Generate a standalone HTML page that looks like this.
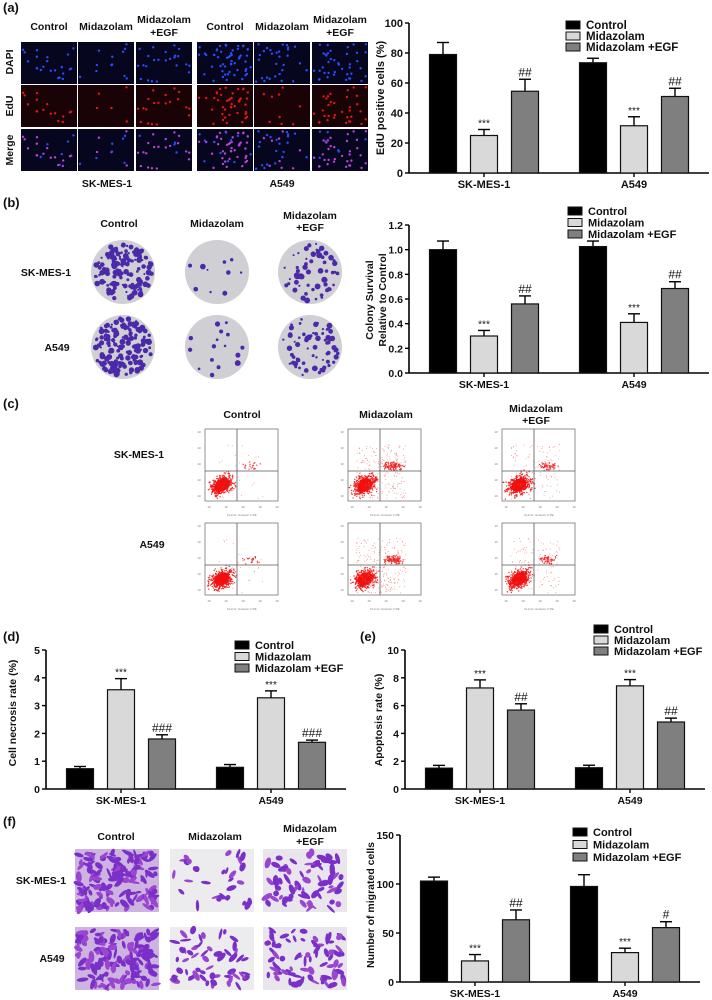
<!DOCTYPE html>
<html><head><meta charset="utf-8"><style>
html,body{margin:0;padding:0;background:#fff;}
svg{display:block;font-family:"Liberation Sans",Arial,sans-serif;}
</style></head><body>
<svg id="fig" width="712" height="1000" viewBox="0 0 712 1000" xmlns="http://www.w3.org/2000/svg">
<g id="static"></g>
</svg>
<script>
// ---------- chart data ----------
const groups = ["SK-MES-1", "A549"];
const series = ["Control", "Midazolam", "Midazolam +EGF"];

const edu_ctrl = [79, 73.5], edu_mid = [25, 31.5], edu_egf = [54.5, 51];
const edu_ctrl_err = [8, 3], edu_mid_err = [4, 6], edu_egf_err = [8, 5.5];
const edu_mid_ann = ["***", "***"], edu_egf_ann = ["##", "##"];
const edu_ticks = [0, 20, 40, 60, 80, 100];
const edu_tick_labels = ["0", "20", "40", "60", "80", "100"];

const col_ctrl = [1.0, 1.025], col_mid = [0.30, 0.41], col_egf = [0.56, 0.685];
const col_ctrl_err = [0.07, 0.045], col_mid_err = [0.045, 0.07], col_egf_err = [0.065, 0.055];
const col_mid_ann = ["***", "***"], col_egf_ann = ["##", "##"];
const col_ticks = [0, 0.2, 0.4, 0.6, 0.8, 1.0, 1.2];
const col_tick_labels = ["0.0", "0.2", "0.4", "0.6", "0.8", "1.0", "1.2"];

const nec_ctrl = [0.73, 0.78], nec_mid = [3.57, 3.28], nec_egf = [1.8, 1.68];
const nec_ctrl_err = [0.08, 0.1], nec_mid_err = [0.4, 0.25], nec_egf_err = [0.15, 0.08];
const nec_mid_ann = ["***", "***"], nec_egf_ann = ["###", "###"];
const nec_ticks = [0, 1, 2, 3, 4, 5];
const nec_tick_labels = ["0", "1", "2", "3", "4", "5"];

const apo_ctrl = [1.5, 1.53], apo_mid = [7.27, 7.42], apo_egf = [5.68, 4.82];
const apo_ctrl_err = [0.2, 0.18], apo_mid_err = [0.58, 0.45], apo_egf_err = [0.45, 0.28];
const apo_mid_ann = ["***", "***"], apo_egf_ann = ["##", "##"];
const apo_ticks = [0, 2, 4, 6, 8, 10];
const apo_tick_labels = ["0", "2", "4", "6", "8", "10"];

const mig_ctrl = [103, 97.5], mig_mid = [21.5, 30], mig_egf = [63.5, 55.5];
const mig_ctrl_err = [4, 12], mig_mid_err = [6.5, 4.5], mig_egf_err = [10, 6];
const mig_mid_ann = ["***", "***"], mig_egf_ann = ["##", "#"];
const mig_ticks = [0, 50, 100, 150];
const mig_tick_labels = ["0", "50", "100", "150"];

// ---------- helpers ----------
const NS = "http://www.w3.org/2000/svg";
const root = document.getElementById("static");
function mk(tag, attrs, parent) {
  const e = document.createElementNS(NS, tag);
  for (const k in attrs) e.setAttribute(k, attrs[k]);
  (parent || root).appendChild(e);
  return e;
}
function txt(x, y, s, size, parent, anchor, bold, name) {
  const t = mk("text", {x: x, y: y, "font-size": size, "text-anchor": anchor || "middle", "font-weight": bold === false ? "normal" : "bold", fill: "#111"}, parent);
  t.textContent = s;
  
  
  return t;
}
const fills = ["#000000", "#d9d9d9", "#7f7f7f"];

function barChart(c) {
  const g = mk("g", {}, root);
  
  
  const plotW = 300;
  const ys = v => c.y0 - (v / c.ymax) * (c.y0 - c.yTop);
  const gx = i => c.x0 + plotW * (0.25 + 0.5 * i) + c.shift;
  const ya = mk("line", {x1: c.x0, y1: c.yTop, x2: c.x0, y2: c.y0, stroke: "#000", "stroke-width": 1.6}, g);
  
  
  c.ticks.forEach((t, i) => {
    mk("line", {x1: c.x0 - 4, y1: ys(t), x2: c.x0, y2: ys(t), stroke: "#000", "stroke-width": 1.4}, g);
    txt(c.x0 - 6, ys(t) + 4, c.tickLabels[i], c.fs, g, "end", true, "y-tick-label");
  });
  const xa = mk("line", {x1: c.x0, y1: c.y0, x2: c.x0 + plotW, y2: c.y0, stroke: "#000", "stroke-width": 1.6}, g);
  
  
  const vals = [c.ctrl, c.mid, c.egf], errs = [c.ctrlE, c.midE, c.egfE], anns = [null, c.midA, c.egfA];
  groups.forEach((gn, i) => {
    mk("line", {x1: gx(i), y1: c.y0, x2: gx(i), y2: c.y0 + 4, stroke: "#000", "stroke-width": 1.4}, g);
    txt(gx(i), c.y0 + 15, gn, c.fs, g, "middle", true, "x-group-label");
    for (let s = 0; s < 3; s++) {
      const cx = gx(i) + (s - 1) * 41, w = 27;
      const v = vals[s][i], e = errs[s][i];
      const top = ys(v), et = ys(v + e);
      const el = mk("line", {x1: cx, y1: top, x2: cx, y2: et, stroke: "#000", "stroke-width": 1.4}, g);
      
      
      mk("line", {x1: cx - 6, y1: et, x2: cx + 6, y2: et, stroke: "#000", "stroke-width": 1.4}, g);
      const r = mk("rect", {x: cx - w / 2, y: top, width: w, height: c.y0 - top, fill: fills[s], stroke: "#111", "stroke-width": 1.2}, g);
      
      
      if (anns[s]) {
        const a = anns[s][i];
        const star = a.indexOf("*") >= 0;
        txt(cx, et - 3, a, star ? 10 : 12, g, "middle", false, "significance-mark");
      }
    }
  });
  series.forEach((sn, s) => {
    const ly = c.legY + s * c.legDy;
    const r = mk("rect", {x: c.legX, y: ly - 4, width: 14, height: 8, fill: fills[s], stroke: "#111", "stroke-width": 1}, g);
    
    
    txt(c.legX + 20, ly + 4, sn, c.legFs, g, "start", true, "legend-entry");
  });
  c.ylab.forEach((l, k) => {
    const yx = c.ylabX + k * 13;
    const t = txt(yx, c.ylabY, l, c.fs, g, "middle", true, "y-axis-title");
    t.setAttribute("transform", `rotate(-90 ${yx} ${c.ylabY})`);
  });
}

barChart({name: "edu-chart", x0: 409, y0: 173, yTop: 23, ymax: 100, shift: 0, ticks: edu_ticks, tickLabels: edu_tick_labels,
  ctrl: edu_ctrl, mid: edu_mid, egf: edu_egf, ctrlE: edu_ctrl_err, midE: edu_mid_err, egfE: edu_egf_err, midA: edu_mid_ann, egfA: edu_egf_ann,
  legX: 566, legY: 25, legDy: 11, legFs: 11.5, fs: 11, ylab: ["EdU positive cells (%)"], ylabX: 384, ylabY: 98});
barChart({name: "colony-chart", x0: 409, y0: 373, yTop: 225, ymax: 1.2, shift: 0, ticks: col_ticks, tickLabels: col_tick_labels,
  ctrl: col_ctrl, mid: col_mid, egf: col_egf, ctrlE: col_ctrl_err, midE: col_mid_err, egfE: col_egf_err, midA: col_mid_ann, egfA: col_egf_ann,
  legX: 568, legY: 211, legDy: 11.5, legFs: 11, fs: 10.5, ylab: ["Colony Survival", "Relative to Control"], ylabX: 373, ylabY: 300});
barChart({name: "necrosis-chart", x0: 46, y0: 789, yTop: 650, ymax: 5, shift: 0, ticks: nec_ticks, tickLabels: nec_tick_labels,
  ctrl: nec_ctrl, mid: nec_mid, egf: nec_egf, ctrlE: nec_ctrl_err, midE: nec_mid_err, egfE: nec_egf_err, midA: nec_mid_ann, egfA: nec_egf_ann,
  legX: 235, legY: 645, legDy: 11.5, legFs: 11, fs: 10.5, ylab: ["Cell necrosis rate (%)"], ylabX: 16, ylabY: 713});
barChart({name: "apoptosis-chart", x0: 405, y0: 789, yTop: 650, ymax: 10, shift: 0, ticks: apo_ticks, tickLabels: apo_tick_labels,
  ctrl: apo_ctrl, mid: apo_mid, egf: apo_egf, ctrlE: apo_ctrl_err, midE: apo_mid_err, egfE: apo_egf_err, midA: apo_mid_ann, egfA: apo_egf_ann,
  legX: 594, legY: 629, legDy: 11, legFs: 11, fs: 10.5, ylab: ["Apoptosis rate (%)"], ylabX: 382, ylabY: 720});
barChart({name: "migration-chart", x0: 400, y0: 982, yTop: 835, ymax: 150, shift: 0, ticks: mig_ticks, tickLabels: mig_tick_labels,
  ctrl: mig_ctrl, mid: mig_mid, egf: mig_egf, ctrlE: mig_ctrl_err, midE: mig_mid_err, egfE: mig_egf_err, midA: mig_mid_ann, egfA: mig_egf_ann,
  legX: 573, legY: 832, legDy: 12.5, legFs: 11, fs: 10.5, ylab: ["Number of migrated cells"], ylabX: 374, ylabY: 905});

// ---------- decorative micrographs ----------
let seed = 7;
function rnd() { seed = (seed * 16807) % 2147483647; return seed / 2147483647; }

[["(a)", 3, 12], ["(b)", 3, 207], ["(c)", 3, 408], ["(d)", 3, 641], ["(e)", 360, 641], ["(f)", 3, 826]].forEach(p => txt(p[1], p[2], p[0], 13, root, "start", true, "panel-label"));

// (a) fluorescence grid
const aCols = [21, 78, 136, 197, 254, 312], aRows = [42, 85, 129];
const aHead = [["Control"], ["Midazolam"], ["Midazolam", "+EGF"], ["Control"], ["Midazolam"], ["Midazolam", "+EGF"]];
const density = [22, 12, 24, 55, 30, 40];
aCols.forEach((x, ci) => {
  const h = aHead[ci];
  if (h.length === 1) txt(x + 28, 30, h[0], 10.5, root, "middle", true, "column-header");
  else { txt(x + 28, 23, h[0], 10.5, root, "middle", true, "column-header"); txt(x + 28, 36, h[1], 10.5, root, "middle", true, "column-header"); }
  aRows.forEach((y, ri) => {
    const g = mk("g", {});
    
    
    mk("rect", {x: x, y: y, width: 56, height: 42, fill: ri === 1 ? "#1a0306" : "#06061e"}, g);
    seed = 100 + ci * 13;
    const n = density[ci];
    for (let k = 0; k < n; k++) {
      const px = x + 2 + rnd() * 52, py = y + 2 + rnd() * 38, isRed = rnd() < (ci === 1 || ci === 4 ? 0.3 : 0.7);
      let col;
      if (ri === 0) col = "#2a4cff";
      else if (ri === 1) col = isRed ? "#e01818" : null;
      else col = isRed ? "#c040d8" : "#2a4cff";
      if (col) mk("circle", {cx: px, cy: py, r: 1.2, fill: col}, g);
    }
  });
});
[["DAPI", 62], ["EdU", 106], ["Merge", 150]].forEach(r => {
  const t = txt(13, r[1], r[0], 10.5, root, "middle", true, "row-label");
  t.setAttribute("transform", `rotate(-90 13 ${r[1]})`);
});
txt(107, 187, "SK-MES-1", 10.5, root, "middle", true, "cell-line-label");
txt(282, 187, "A549", 10.5, root, "middle", true, "cell-line-label");

// (b) colony dishes
const bCx = [123, 217, 310], bCy = [272, 347], bDen = [[150, 10, 60], [170, 16, 70]];
txt(119, 227, "Control", 10.5, root, "middle", true, "column-header");
txt(217, 227, "Midazolam", 10.5, root, "middle", true, "column-header");
txt(310, 219, "Midazolam", 10.5, root, "middle", true, "column-header");
txt(310, 231, "+EGF", 10.5, root, "middle", true, "column-header");
txt(46, 276, "SK-MES-1", 10.5, root, "middle", true, "row-label");
txt(57, 351, "A549", 10.5, root, "middle", true, "row-label");
bCy.forEach((cy, ri) => bCx.forEach((cx, ci) => {
  const g = mk("g", {});
  
  
  mk("circle", {cx: cx, cy: cy, r: 32, fill: "#cfcfd4"}, g);
  seed = 500 + ri * 31 + ci * 7;
  for (let k = 0; k < bDen[ri][ci]; k++) {
    const a = rnd() * 6.283, d = Math.sqrt(rnd()) * 29;
    mk("circle", {cx: cx + Math.cos(a) * d, cy: cy + Math.sin(a) * d, r: 1 + rnd() * 2, fill: "#4a2aa8"}, g);
  }
}));

// (c) flow cytometry
const cX = [205, 348, 502], cY = [429, 523];
txt(242, 418, "Control", 10.5, root, "middle", true, "column-header");
txt(386, 418, "Midazolam", 10.5, root, "middle", true, "column-header");
txt(536, 412, "Midazolam", 10.5, root, "middle", true, "column-header");
txt(536, 424, "+EGF", 10.5, root, "middle", true, "column-header");
txt(139, 458, "SK-MES-1", 10.5, root, "middle", true, "row-label");
txt(152, 548, "A549", 10.5, root, "middle", true, "row-label");
const cUR = [[20, 110, 55], [20, 110, 55]], cSpread = [[30, 220, 110], [30, 230, 110]];
cY.forEach((y, ri) => cX.forEach((x, ci) => {
  const g = mk("g", {});
  
  
  mk("rect", {x: x, y: y, width: 73, height: 72, fill: "#fff", stroke: "#777", "stroke-width": 0.8}, g);
  seed = 900 + ri * 17 + ci * 5;
  mk("ellipse", {cx: x + 17, cy: y + 56, rx: 8, ry: 6, fill: "#f21a1a", transform: `rotate(-35 ${x + 17} ${y + 56})`}, g);
  for (let k = 0; k < 450; k++) {
    const u = rnd() + rnd() + rnd() - 1.5, v = rnd() + rnd() + rnd() - 1.5;
    mk("circle", {cx: x + 17 + u * 11 + v * 3, cy: y + 56 + v * 8 - u * 5, r: 0.7, fill: "#f01010", opacity: 0.85}, g);
  }
  for (let k = 0; k < cUR[ri][ci]; k++) {
    const u = rnd() + rnd() - 1, v = rnd() + rnd() - 1;
    mk("circle", {cx: x + 46 + u * 11, cy: y + 37 + v * 5, r: 0.7, fill: "#f02020", opacity: 0.85}, g);
  }
  for (let k = 0; k < cSpread[ri][ci]; k++) {
    mk("circle", {cx: x + 8 + rnd() * 50, cy: y + 15 + rnd() * 55, r: 0.5, fill: "#f06060", opacity: 0.7}, g);
  }
  mk("line", {x1: x + 32, y1: y, x2: x + 32, y2: y + 72, stroke: "#555", "stroke-width": 0.8}, g);
  mk("line", {x1: x, y1: y + 42, x2: x + 73, y2: y + 42, stroke: "#555", "stroke-width": 0.8}, g);
  const cap = txt(x + 37, y + 87, "FL2-H:: Annexin V PE", 3, g, "middle", false, "flow-x-axis-title");
  cap.setAttribute("fill", "#777");
  for (let k = 0; k < 5; k++) {
    const tk = txt(x + 4 + k * 17, y + 79, "10", 3, g, "middle", false, "flow-tick");
    tk.setAttribute("fill", "#777");
    const tk2 = txt(x - 6, y + 68 - k * 16, "10", 3, g, "middle", false, "flow-tick");
    tk2.setAttribute("fill", "#777");
  }
}));

// (f) transwell images
const fX = [75, 170, 263], fY = [849, 927];
txt(116, 840, "Control", 10.5, root, "middle", true, "column-header");
txt(215, 840, "Midazolam", 10.5, root, "middle", true, "column-header");
txt(310, 832, "Midazolam", 10.5, root, "middle", true, "column-header");
txt(310, 845, "+EGF", 10.5, root, "middle", true, "column-header");
txt(41, 884, "SK-MES-1", 10.5, root, "middle", true, "row-label");
txt(52, 962, "A549", 10.5, root, "middle", true, "row-label");
const fDen = [[140, 30, 70], [140, 55, 75]], fBg = ["#cdb4e0", "#ecebee", "#e9e5ed"];
fY.forEach((y, ri) => fX.forEach((x, ci) => {
  const g = mk("g", {});
  
  
  mk("rect", {x: x, y: y, width: 84, height: 63, fill: fBg[ci]}, g);
  seed = 1300 + ri * 11 + ci * 3;
  for (let k = 0; k < fDen[ri][ci]; k++) {
    const ex = x + 3 + rnd() * 78, ey = y + 3 + rnd() * 57, ang = rnd() * 180;
    mk("ellipse", {cx: ex, cy: ey, rx: 2.5 + rnd() * 3.5, ry: 1.2 + rnd() * 1.8, fill: k % 3 ? "#7a30c8" : "#9a46d0", transform: `rotate(${ang} ${ex} ${ey})`}, g);
  }
}));
</script>
</body></html>
